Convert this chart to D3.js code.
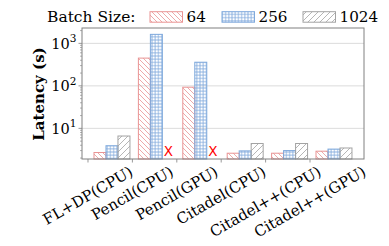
<!DOCTYPE html>
<html lang="en">
<head>
    <meta charset="UTF-8">
    <title>Latency by batch size</title>
    <script src="https://d3js.org/d3.v7.min.js"></script>
    <style>
        body { margin: 0; padding: 0; background: #fff; }
        svg { display: block; }
    </style>
</head>
<body>
    <svg width="389" height="246"></svg>

    <script>
        // data
        const groups = ["FL+DP(CPU)", "Pencil(CPU)", "Pencil(GPU)", "Citadel(CPU)", "Citadel++(CPU)", "Citadel++(GPU)"];
        const batchSizes = ["64", "256", "1024"];
        const lat64 = [2.7, 450, 93, 2.6, 2.6, 2.9];
        const lat256 = [3.9, 1630, 360, 2.95, 3.0, 3.25];
        const lat1024 = [6.6, null, null, 4.4, 4.4, 3.45];
        const yTicks = [10, 100, 1000];

        const series = [lat64, lat256, lat1024];
        const colors = ["#e99494", "#7fa9dc", "#a3a3a3"];
        const SERIF = "DejaVu Serif";

        const mLeft = 82, mRight = 364, mTop = 28, mBottom = 159;

        const svg = d3.select("svg").style("font-family", SERIF);

        // hatch patterns
        const defs = svg.append("defs");
        const p0 = defs.append("pattern").attr("id", "h64")
            .attr("patternUnits", "userSpaceOnUse").attr("width", 5).attr("height", 5);
        p0.append("path").attr("d", "M-1,-1L6,6M-1,4L1,6M4,-1L6,1")
            .attr("stroke", colors[0]).attr("stroke-width", 0.8);
        const p1 = defs.append("pattern").attr("id", "h256")
            .attr("patternUnits", "userSpaceOnUse").attr("width", 3.2).attr("height", 3.2);
        p1.append("path").attr("d", "M0,1.6H3.2M1.6,0V3.2")
            .attr("stroke", colors[1]).attr("stroke-width", 0.8);
        const p2 = defs.append("pattern").attr("id", "h1024")
            .attr("patternUnits", "userSpaceOnUse").attr("width", 6).attr("height", 6);
        p2.append("path").attr("d", "M-1,7L7,-1M-1,1L1,-1M5,7L7,5")
            .attr("stroke", colors[2]).attr("stroke-width", 0.8);
        const fills = ["url(#h64)", "url(#h256)", "url(#h1024)"];

        const x = d3.scaleLinear().domain([-0.135, 6.216]).range([mLeft, mRight]);
        const y = d3.scaleLog().domain([1.9, 2300]).range([mBottom, mTop]);
        const barW = 0.27, barOff = 0.135;

        // grid
        svg.append("g").selectAll("line").data(yTicks).join("line")
            .attr("x1", mLeft).attr("x2", mRight)
            .attr("y1", d => y(d)).attr("y2", d => y(d))
            .attr("stroke", "#dcdcdc").attr("stroke-width", 1);

        // bars
        series.forEach((vals, k) => {
            const data = vals.map((v, i) => ({ i, v })).filter(d => d.v != null);
            svg.append("g").selectAll("rect").data(data).join("rect")
                .attr("x", d => x(d.i + barOff + k * barW))
                .attr("width", x(barW) - x(0))
                .attr("y", d => y(d.v))
                .attr("height", d => mBottom - y(d.v))
                .attr("fill", fills[k])
                .attr("stroke", colors[k]).attr("stroke-width", 1);

            // red X where a run is missing
            const missing = vals.map((v, i) => ({ i, v })).filter(d => d.v == null);
            svg.append("g").selectAll("text").data(missing).join("text")
                .attr("x", d => x(d.i + barOff + (k + 0.5) * barW))
                .attr("y", mBottom - 3.5)
                .attr("text-anchor", "middle")
                .style("font-family", "DejaVu Sans")
                .style("font-size", "13.5px")
                .style("fill", "#ff0000")
                .text("X");
        });

        // frame
        svg.append("rect").attr("x", mLeft).attr("y", mTop)
            .attr("width", mRight - mLeft).attr("height", mBottom - mTop)
            .attr("fill", "none").attr("stroke", "#808080").attr("stroke-width", 1);

        // y ticks
        const minor = [];
        for (let e = 0; e <= 3; e++) for (let m = 2; m <= 9; m++) {
            const v = m * Math.pow(10, e);
            if (v > 1.9 && v < 2300) minor.push(v);
        }
        svg.append("g").selectAll("line").data(minor).join("line")
            .attr("x1", mLeft - 2).attr("x2", mLeft)
            .attr("y1", d => y(d)).attr("y2", d => y(d))
            .attr("stroke", "#808080").attr("stroke-width", 0.6);
        svg.append("g").selectAll("line").data(yTicks).join("line")
            .attr("x1", mLeft - 3.5).attr("x2", mLeft)
            .attr("y1", d => y(d)).attr("y2", d => y(d))
            .attr("stroke", "#808080").attr("stroke-width", 0.8);
        const yl = svg.append("g").selectAll("text").data(yTicks).join("text")
            .attr("x", mLeft - 5.5).attr("y", d => y(d) + 5.5)
            .attr("text-anchor", "end")
            .style("font-family", SERIF)
            .style("font-size", "14.5px");
        yl.append("tspan").text("10");
        yl.append("tspan").attr("dy", -6.5).style("font-size", "10.5px").text(d => Math.round(Math.log10(d)));

        // x ticks and labels
        svg.append("g").selectAll("line").data(groups).join("line")
            .attr("x1", (d, i) => x(i)).attr("x2", (d, i) => x(i))
            .attr("y1", mBottom).attr("y2", mBottom + 3.5)
            .attr("stroke", "#808080").attr("stroke-width", 0.8);
        const ang = 30 * Math.PI / 180;
        const fs = 15;
        svg.append("g").selectAll("text").data(groups).join("text")
            .style("font-family", SERIF)
            .style("font-size", fs + "px")
            .attr("text-anchor", "middle")
            .attr("dominant-baseline", "central")
            .text(d => d)
            .each(function (d, i) {
                const w = this.getComputedTextLength();
                const h = w * Math.sin(ang) + fs * 1.15 * Math.cos(ang);
                const cx = x(i), cy = 163 + h / 2;
                d3.select(this).attr("x", cx).attr("y", cy)
                    .attr("transform", `rotate(-30,${cx},${cy})`);
            });

        // y label
        svg.append("text")
            .attr("transform", "translate(44,94) rotate(-90)")
            .attr("text-anchor", "middle")
            .style("font-family", SERIF)
            .style("font-size", "15px").style("font-weight", "bold")
            .text("Latency (s)");

        // legend
        svg.append("text").attr("x", 47).attr("y", 21.7)
            .style("font-family", SERIF).style("font-size", "15.5px").text("Batch Size:");
        const legX = [150, 222, 303];
        batchSizes.forEach((b, k) => {
            svg.append("rect").attr("x", legX[k]).attr("y", 11.7).attr("width", 32.5).attr("height", 10.5)
                .attr("fill", fills[k]).attr("stroke", colors[k]).attr("stroke-width", 1);
            svg.append("text").attr("x", legX[k] + 36.5).attr("y", 21.7)
                .style("font-family", SERIF).style("font-size", "15.2px").text(b);
        });
    </script>
</body>
</html>
